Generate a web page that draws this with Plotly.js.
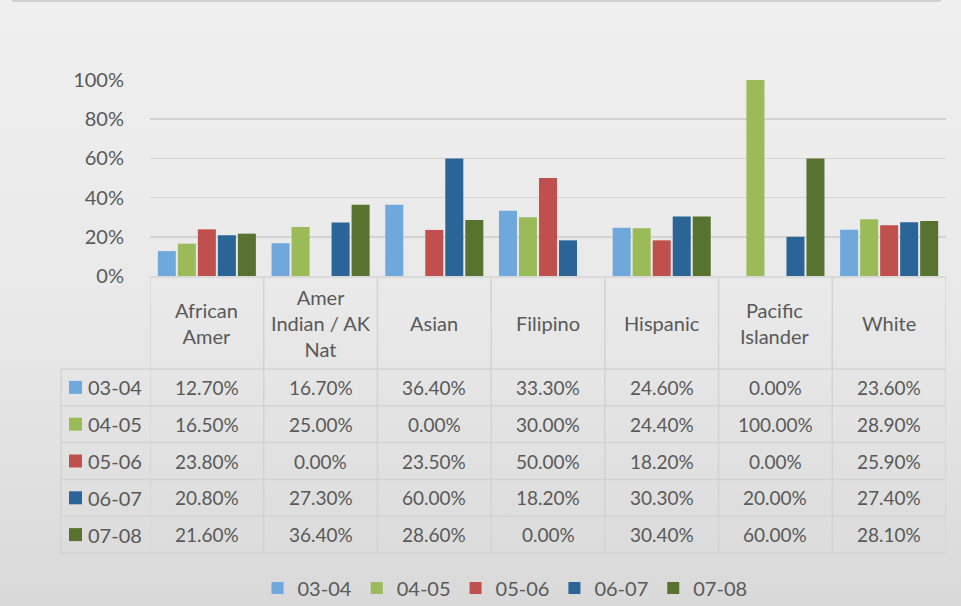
<!DOCTYPE html>
<html><head><meta charset="utf-8">
<script src="https://cdn.plot.ly/plotly-3.0.1.min.js"></script>
<style>
html,body{margin:0;padding:0;width:961px;height:606px;overflow:hidden;}
body{background:linear-gradient(to bottom,#efefef 0%,#e9e9e9 50%,#d9d9d9 100%);}
#chart{width:961px;height:606px;}
</style></head><body><div id="chart"></div>
<script>
// ---- data ----
const categories = ['African<br>Amer', 'Amer<br>Indian / AK<br>Nat', 'Asian', 'Filipino', 'Hispanic', 'Pacific<br>Islander', 'White'];
const seriesNames = ['03-04', '04-05', '05-06', '06-07', '07-08'];
const s0304 = [12.7, 16.7, 36.4, 33.3, 24.6, 0.0, 23.6];
const s0405 = [16.5, 25.0, 0.0, 30.0, 24.4, 100.0, 28.9];
const s0506 = [23.8, 0.0, 23.5, 50.0, 18.2, 0.0, 25.9];
const s0607 = [20.8, 27.3, 60.0, 18.2, 30.3, 20.0, 27.4];
const s0708 = [21.6, 36.4, 28.6, 0.0, 30.4, 60.0, 28.1];
const yTicks = [0, 20, 40, 60, 80, 100];
const yTickLabels = ['0%', '20%', '40%', '60%', '80%', '100%'];
const seriesValues = [s0304, s0405, s0506, s0607, s0708];

// ---- styles ----
const colors = ['#6FA8DC', '#9BBB59', '#C0504D', '#2B6497', '#57732F'];
const FONT = 'Lato, "Open Sans", sans-serif';
const TXT = '#595959';
const GRID = '#d3d3d3';
const W = 961, H = 606, ML = 150, MR = 15, MT = 80, MB = 330;
const PW = W - ML - MR, PH = H - MT - MB;
const px = p => (p - ML) / PW;          // pixel x -> paper
const py = p => (MT + PH - p) / PH;     // pixel y -> paper

// table geometry (pixels)
const headerTop = 277, headerBottom = 369, rowH = 36.8;
const rowEdges = [headerBottom];
for (let i = 1; i <= seriesNames.length; i++) rowEdges.push(headerBottom + rowH * i);
const tableLeft = 61;

const xIdx = categories.map((c, i) => i);

const traces = seriesNames.map((name, s) => ({
  type: 'bar', name: name, x: categories, y: seriesValues[s],
  marker: {color: colors[s]}, hoverinfo: 'skip'
}));

const shapes = [];
const annotations = [];
const lineStyle = {color: GRID, width: 1.5};

// top decorative line
shapes.push({type: 'line', xref: 'paper', yref: 'paper', x0: px(12), x1: px(941), y0: py(1), y1: py(1), line: {color: '#d0d0d0', width: 2}});
// header top border over category columns
shapes.push({type: 'line', xref: 'paper', yref: 'paper', x0: 0, x1: 1, y0: py(headerTop), y1: py(headerTop), line: lineStyle});
// row borders
rowEdges.forEach(r => shapes.push({type: 'line', xref: 'paper', yref: 'paper', x0: px(tableLeft), x1: 1, y0: py(r), y1: py(r), line: lineStyle}));
// column borders
for (let i = 0; i <= categories.length; i++) {
  shapes.push({type: 'line', xref: 'x', yref: 'paper', x0: i - 0.5, x1: i - 0.5, y0: py(headerTop), y1: py(rowEdges[rowEdges.length - 1]), line: lineStyle});
}
shapes.push({type: 'line', xref: 'paper', yref: 'paper', x0: px(tableLeft), x1: px(tableLeft), y0: py(headerBottom), y1: py(rowEdges[rowEdges.length - 1]), line: lineStyle});

// header labels
categories.forEach((c, i) => annotations.push({
  xref: 'x', yref: 'paper', x: xIdx[i], y: py((headerTop + headerBottom) / 2), text: c,
  showarrow: false, xanchor: 'center', yanchor: 'middle', align: 'center',
  font: {family: FONT, size: 20, color: TXT}
}));
// value cells and legend keys
seriesNames.forEach((name, s) => {
  const yc = (rowEdges[s] + rowEdges[s + 1]) / 2;
  shapes.push({type: 'rect', xref: 'paper', yref: 'paper', x0: px(69), x1: px(82), y0: py(yc - 6.5), y1: py(yc + 6.5), fillcolor: colors[s], line: {width: 0}});
  annotations.push({xref: 'paper', yref: 'paper', x: px(86), y: py(yc), text: name, showarrow: false, xanchor: 'left', yanchor: 'middle', font: {family: FONT, size: 20, color: TXT}});
  seriesValues[s].forEach((v, i) => annotations.push({
    xref: 'x', yref: 'paper', x: xIdx[i], y: py(yc), text: v.toFixed(2) + '%',
    showarrow: false, xanchor: 'center', yanchor: 'middle',
    font: {family: FONT, size: 19, color: TXT}
  }));
});

const layout = {
  width: W, height: H,
  margin: {l: ML, r: MR, t: MT, b: MB, autoexpand: false},
  paper_bgcolor: 'rgba(0,0,0,0)', plot_bgcolor: 'rgba(0,0,0,0)',
  barmode: 'group', bargap: 0.12, bargroupgap: 0.1,
  font: {family: FONT, color: TXT},
  xaxis: {type: 'category', range: [-0.5, 6.5], showticklabels: false, showgrid: false, zeroline: false, showline: false, fixedrange: true},
  yaxis: {range: [0, 100], tickvals: yTicks, ticktext: yTickLabels, showgrid: true, gridcolor: GRID, gridwidth: 1.5,
          zeroline: false, showline: false, ticks: 'outside', ticklen: 21, tickcolor: 'rgba(0,0,0,0)',
          tickfont: {family: FONT, size: 20, color: TXT}, fixedrange: true},
  showlegend: true,
  legend: {orientation: 'h', x: px(505), xanchor: 'center', y: py(588), yanchor: 'middle',
           font: {family: FONT, size: 20, color: TXT}, bgcolor: 'rgba(0,0,0,0)', itemwidth: 30, traceorder: 'normal'},
  shapes: shapes, annotations: annotations
};

Plotly.newPlot('chart', traces, layout, {displayModeBar: false, staticPlot: true});
</script></body></html>
